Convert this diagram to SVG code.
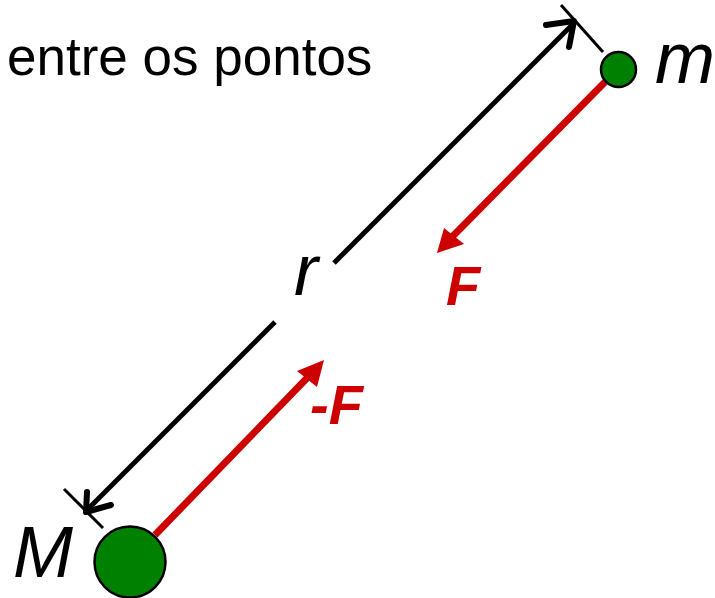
<svg xmlns="http://www.w3.org/2000/svg" width="715" height="598" viewBox="0 0 715 598">
<style>
.txt{font-family:"Liberation Sans",Arial,sans-serif;}
.ital{font-style:italic;font-size:72px;fill:#000;}
.force{font-style:italic;font-weight:bold;font-size:56px;fill:#CC0000;}
.dim{stroke:#000;stroke-width:5;fill:none;stroke-linecap:butt;}
.chev{stroke:#000;stroke-width:6;fill:none;stroke-linecap:round;stroke-linejoin:round;}
.tick{stroke:#000;stroke-width:3;}
.red{stroke:#CC0000;stroke-width:7;fill:none;}
.head{fill:#CC0000;}
.mass{fill:#008000;stroke:#000;stroke-width:2.5;}
</style>
<rect width="715" height="598" fill="#fff"/>
<text class="txt" x="7" y="75" font-size="53">entre os pontos</text>
<g id="connectors">
  <line class="dim" x1="86" y1="511" x2="275" y2="322"/>
  <line class="dim" x1="334" y1="263" x2="573" y2="24"/>
  <polyline class="chev" points="546,25 574,21 569,47"/>
  <polyline class="chev" points="87,492 86,512 111,505"/>
  <line class="tick" x1="561" y1="5" x2="603" y2="52"/>
  <line class="tick" x1="64" y1="489" x2="103" y2="528"/>
  <line class="red" x1="605" y1="82" x2="452" y2="237"/>
  <polygon class="head" points="437,253 444,228 464,244"/>
  <line class="red" x1="155" y1="535" x2="309" y2="376"/>
  <polygon class="head" points="324,360 297,371 317,387"/>
</g>
<g id="node-m">
  <circle class="mass" cx="618.5" cy="69.5" r="17.5"/>
  <text class="txt ital" x="655" y="83">m</text>
</g>
<g id="node-M">
  <circle class="mass" cx="130" cy="562" r="35.5"/>
  <text class="txt ital" x="13" y="577">M</text>
</g>
<g id="label-r">
  <text class="txt ital" x="294" y="295">r</text>
</g>
<g id="label-F">
  <text class="txt force" x="446" y="305">F</text>
</g>
<g id="label-negF">
  <text class="txt force" x="310" y="424">-F</text>
</g>
</svg>
